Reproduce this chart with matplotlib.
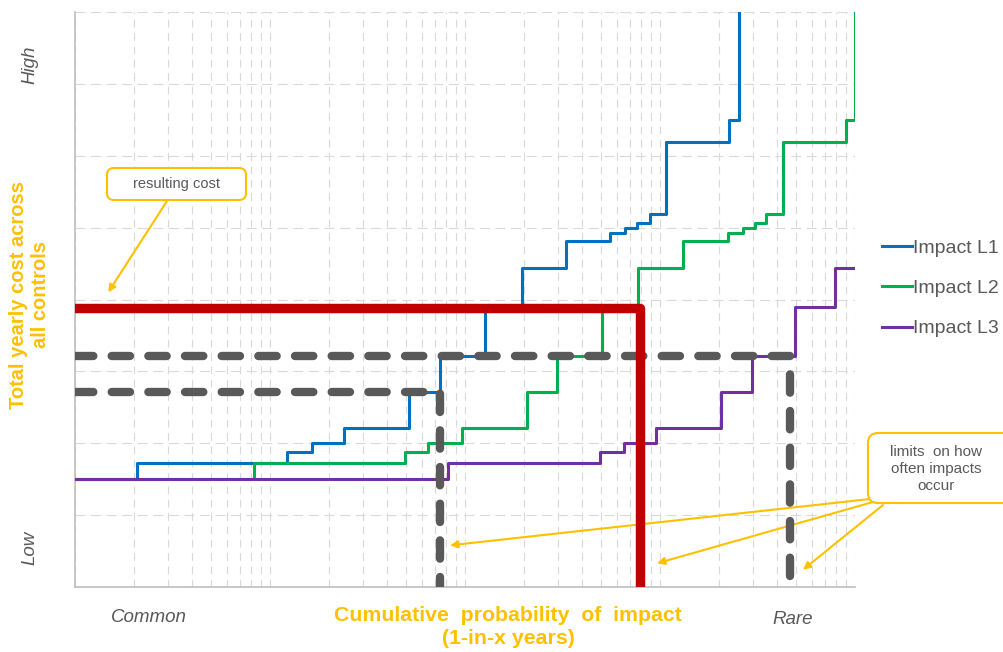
import matplotlib
matplotlib.use("Agg")
import matplotlib.pyplot as plt
from matplotlib.ticker import MultipleLocator, LogLocator, NullFormatter
from matplotlib.patches import FancyBboxPatch

plt.rcParams['font.family'] = ['Liberation Sans', 'DejaVu Sans']

# step curves: x where each level starts (1-in-x years), y = cost level
l1_x = [1, 2.08, 12.2, 16.4, 24, 51.6, 74.5, 127, 196, 330, 554, 662, 762, 889, 1073, 2259, 2542]
l1_y = [1.5, 1.72, 1.875, 2.0, 2.21, 2.71, 3.22, 3.875, 4.44, 4.82, 4.92, 4.99, 5.07, 5.19, 6.19, 6.5, 8.5]

l2_x = [1, 8.28, 49.2, 64.6, 96.6, 208, 296, 504, 775, 1312, 2233, 2667, 3069, 3497, 4276, 8995, 10000]
l2_y = [1.5, 1.72, 1.875, 2.0, 2.21, 2.71, 3.22, 3.875, 4.44, 4.82, 4.92, 4.99, 5.07, 5.19, 6.19, 6.5, 8.5]

l3_x = [1, 81.8, 492, 654, 954, 2055, 2964, 4925, 7892, 10000]
l3_y = [1.5, 1.72, 1.875, 2.0, 2.21, 2.71, 3.22, 3.9, 4.44, 4.44]

labels = ['Impact L1', 'Impact L2', 'Impact L3']
colors = ['#0070C0', '#00B050', '#7030A0']

# limit lines
red_x = [1, 789, 789]
red_y = [3.875, 3.875, 0]
lim_hi_x = [1, 4645, 4645]
lim_hi_y = [3.22, 3.22, 0]
lim_lo_x = [1, 74.3, 74.3]
lim_lo_y = [2.71, 2.71, 0]

# annotation arrow targets (data coords)
cost_target = (1.48, 4.10)
limit_targets = [(83.8, 0.58), (966, 0.33), (5412, 0.24)]

GRAY = '#595959'
GOLD = '#FFC000'

fig = plt.figure(figsize=(10.04, 6.52), dpi=100)
ax = fig.add_axes([75 / 1004, 1 - 587 / 652, 780 / 1004, 575 / 652])
ax.set_xscale('log')
ax.set_xlim(1, 10000)
ax.set_ylim(0, 8)

ax.xaxis.set_major_locator(LogLocator(base=10))
ax.xaxis.set_minor_locator(LogLocator(base=10, subs=range(2, 10)))
ax.xaxis.set_major_formatter(NullFormatter())
ax.xaxis.set_minor_formatter(NullFormatter())
ax.yaxis.set_major_locator(MultipleLocator(1))
ax.tick_params(which='both', length=0, labelleft=False, labelbottom=False)
ax.grid(which='both', axis='x', color='#D9D9D9', lw=0.8, ls=(0, (7, 5)))
ax.grid(which='major', axis='y', color='#D9D9D9', lw=0.8, ls=(0, (9, 5)))
ax.set_axisbelow(True)
for s in ['top', 'right']:
    ax.spines[s].set_visible(False)
for s in ['left', 'bottom']:
    ax.spines[s].set_color('#BFBFBF')
    ax.spines[s].set_linewidth(1.2)

handles = []
for xs, ys, c, lab in zip([l1_x, l2_x, l3_x], [l1_y, l2_y, l3_y], colors, labels):
    h, = ax.step(xs, ys, where='post', color=c, lw=2.2, label=lab,
                 solid_joinstyle='round', zorder=3)
    handles.append(h)

for xs, ys in [(lim_hi_x, lim_hi_y), (lim_lo_x, lim_lo_y)]:
    ax.plot(xs, ys, color=GRAY, lw=6.0, ls=(0, (2.2, 2.2)),
            dash_capstyle='round', zorder=4)
ax.plot(red_x, red_y, color='#C00000', lw=6.8, solid_capstyle='round',
        solid_joinstyle='round', zorder=5)

# legend
fig.legend(handles=handles, labels=labels, loc='upper left',
           bbox_to_anchor=(8.82, 6.52 - 2.39), bbox_transform=fig.dpi_scale_trans,
           frameon=False, fontsize=14, handlelength=1.55, handletextpad=0.05,
           labelspacing=1.17, borderpad=0, borderaxespad=0, labelcolor=GRAY)

# axis texts
fig.text(30 / 1004, 1 - 65 / 652, 'High', rotation=90, style='italic', color=GRAY,
         fontsize=13.5, ha='center', va='center')
fig.text(30 / 1004, 1 - 548 / 652, 'Low', rotation=90, style='italic', color=GRAY,
         fontsize=13.5, ha='center', va='center')
fig.text(30 / 1004, 1 - 295 / 652, 'Total yearly cost across\nall controls', rotation=90,
         fontweight='bold', color=GOLD, fontsize=14.5, ha='center', va='center',
         multialignment='center')
fig.text(149 / 1004, 1 - 617 / 652, 'Common', style='italic', color=GRAY,
         fontsize=13.5, ha='center', va='center')
fig.text(793 / 1004, 1 - 620 / 652, 'Rare', style='italic', color=GRAY,
         fontsize=13.5, ha='center', va='center')
fig.text(508 / 1004, 1 - 627 / 652, 'Cumulative  probability  of  impact\n(1-in-x years)',
         fontweight='bold', color=GOLD, fontsize=15.3, ha='center', va='center',
         multialignment='center', linespacing=1.32)

# callout boxes
box1 = FancyBboxPatch((1.07, 4.52), 1.39, 0.32, boxstyle='round,pad=0,rounding_size=0.07',
                      transform=fig.dpi_scale_trans, fc='white', ec=GOLD, lw=1.5, zorder=6)
fig.add_artist(box1)
fig.text(1.765 / 10.04, 4.68 / 6.52, 'resulting cost', color=GRAY, fontsize=10.5,
         ha='center', va='center', zorder=7)

box2 = FancyBboxPatch((8.68, 1.49), 1.45, 0.70, boxstyle='round,pad=0,rounding_size=0.1',
                      transform=fig.dpi_scale_trans, fc='white', ec=GOLD, lw=1.5, zorder=6)
fig.add_artist(box2)
fig.text(936 / 1004, 1 - 469 / 652, 'limits  on how\noften impacts\noccur', color=GRAY,
         fontsize=11, ha='center', va='center', linespacing=1.3, zorder=7)

arrow_kw = dict(arrowstyle='-|>', color=GOLD, lw=1.5, mutation_scale=11,
                shrinkA=0, shrinkB=0)
ax.annotate('', xy=cost_target, xycoords='data', xytext=(167, 652 - 201),
            textcoords='figure pixels', arrowprops=arrow_kw, annotation_clip=False)
starts = [(870, 652 - 499), (873, 652 - 502), (883, 652 - 505)]
for st, tg in zip(starts, limit_targets):
    ax.annotate('', xy=tg, xycoords='data', xytext=st,
                textcoords='figure pixels', arrowprops=arrow_kw, annotation_clip=False)

fig.savefig('out.png', dpi=100)
